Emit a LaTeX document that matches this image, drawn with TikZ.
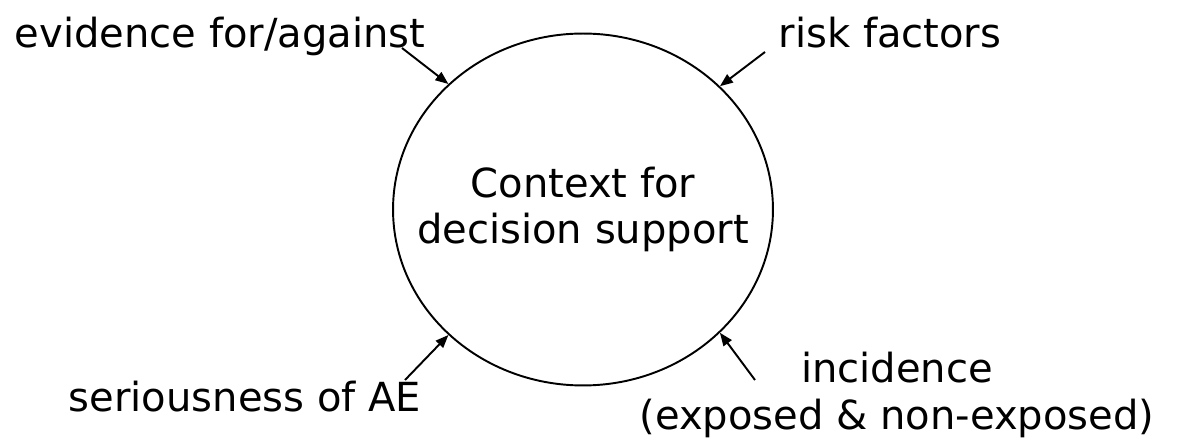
\documentclass[tikz,border=0pt]{standalone}
\usepackage{fontspec}
\setmainfont{DejaVu Sans}
\usetikzlibrary{arrows.meta, shapes.geometric}
\tikzset{
  labeltext/.style={font=\fontsize{22.8}{26.5}\selectfont, inner sep=0pt},
  feed/.style={-{Triangle[length=0.26cm, width=0.2cm]}, line width=1.1pt},
}

\begin{document}
\begin{tikzpicture}[x=0.02cm, y=-0.02cm]
    \useasboundingbox (0,0) rectangle (1181,445);
    \node[draw, ellipse, line width=1.1pt, inner sep=0pt,
          minimum width=7.6cm, minimum height=7.04cm] (ctx) at (583,209.5) {};
    \node[labeltext, align=center] (ctxtext) at (ctx) {Context for\\decision support};

    \node[labeltext, anchor=base] (evid) at (220,48) {evidence for/against};
    \node[labeltext, anchor=base] (risk) at (890,48) {risk factors};
    \node[labeltext, anchor=base] (serious) at (245,412) {seriousness of AE};
    \node[labeltext, align=center] (incid) at (897,395) {incidence\\(exposed \& non-exposed)};

    \coordinate (evidtail) at (402,48);
    \coordinate (risktail) at (765,52);
    \coordinate (serioustail) at (405,380);
    \coordinate (incidtail) at (755,380);

    \draw[feed] (evidtail) -- (ctx.137);
    \draw[feed] (risktail) -- (ctx.42);
    \draw[feed] (serioustail) -- (ctx.223);
    \draw[feed] (incidtail) -- (ctx.318);
\end{tikzpicture}
\end{document}
